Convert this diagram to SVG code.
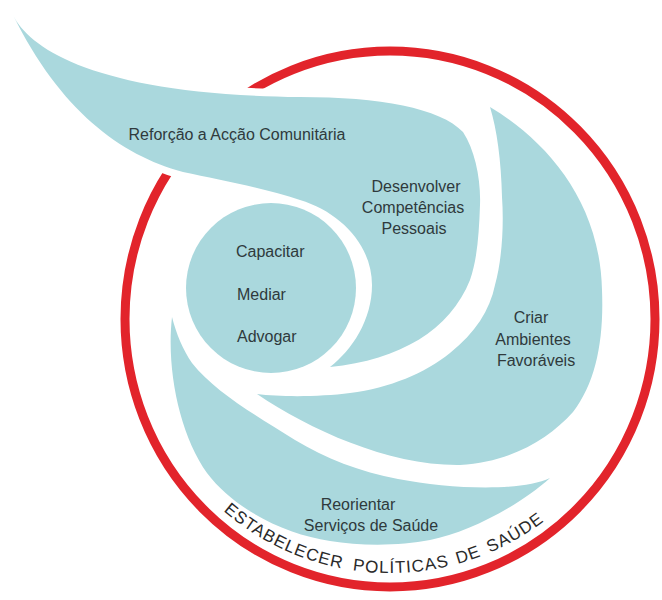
<svg xmlns="http://www.w3.org/2000/svg" width="662" height="600" viewBox="0 0 662 600">
  <style>
    .blue { fill: #aad8dd; }
    .lbl { font-family: "Liberation Sans", Arial, sans-serif; font-size: 16px; fill: #2f3a3c; }
    .mid { text-anchor: middle; }
    .arc { font-family: "Liberation Sans", Arial, sans-serif; font-size: 17px; fill: #2a2a2a; letter-spacing: 1px; }
  </style>
  <defs>
    <path id="shapeA" d="M13,15 C30,50 100,95 300,97 C380,97 440,108 463,132 C475,150 481,180 480,205 C479,235 477,260 470,280 C450,330 400,360 330,367 C352,350 372,320 372,285 C372,245 340,212 300,200 C265,188 220,180 183,172 C120,155 60,110 13,15 Z"/>
    <path id="policyArc" d="M195.4,482.3 A254,254 0 0 0 584.6,482.3"/>
  </defs>
  <rect width="662" height="600" fill="#ffffff"/>

  <g id="red-ring">
    <ellipse cx="390" cy="319" rx="265" ry="268" fill="none" stroke="#e2242b" stroke-width="9"/>
  </g>

  <!-- white halo where the tail crosses the ring -->
  <use href="#shapeA" fill="none" stroke="#ffffff" stroke-width="15" stroke-linejoin="round"/>

  <g id="node-reforco">
    <use href="#shapeA" class="blue"/>
    <text class="lbl mid" x="237" y="140">Reforção a Acção Comunitária</text>
    <text class="lbl mid" x="416" y="192">Desenvolver</text>
    <text class="lbl mid" x="413" y="213">Competências</text>
    <text class="lbl mid" x="414" y="234">Pessoais</text>
  </g>

  <g id="node-core">
    <circle class="blue" cx="271" cy="288" r="85"/>
    <text class="lbl" x="236" y="257">Capacitar</text>
    <text class="lbl" x="237" y="300">Mediar</text>
    <text class="lbl" x="237" y="342">Advogar</text>
  </g>

  <g id="node-criar">
    <path class="blue" d="M490,107 C545,140 600,200 602,290 C604,340 596,382 573,412 C548,440 510,462 460,465 C390,466 310,430 257,394 C280,397 320,397 350,393 C390,388 425,373 450,353 C475,333 490,310 495,285 C502,260 504,225 502,197 C501,160 497,130 490,107 Z"/>
    <text class="lbl mid" x="531" y="323">Criar</text>
    <text class="lbl mid" x="533" y="345">Ambientes</text>
    <text class="lbl mid" x="536" y="366">Favoráveis</text>
  </g>

  <g id="node-reorientar">
    <path class="blue" d="M172,317 C166,370 180,435 207,473 C235,510 285,534 330,541 C360,546 400,546 430,540 C470,532 520,505 550,478 C520,492 450,489 398,479 C360,472 325,458 295,440 C255,415 215,392 192,363 C183,350 176,333 172,317 Z"/>
    <text class="lbl mid" x="358" y="510">Reorientar</text>
    <text class="lbl mid" x="371" y="531">Serviços de Saúde</text>
  </g>

  <g id="node-politicas">
    <text class="arc"><textPath href="#policyArc" startOffset="40">ESTABELECER</textPath></text>
    <text class="arc"><textPath href="#policyArc" startOffset="184">POLÍTICAS</textPath></text>
    <text class="arc"><textPath href="#policyArc" startOffset="290">DE</textPath></text>
    <text class="arc"><textPath href="#policyArc" startOffset="324">SAÚDE</textPath></text>
  </g>

  <g id="connectors"/>
</svg>
